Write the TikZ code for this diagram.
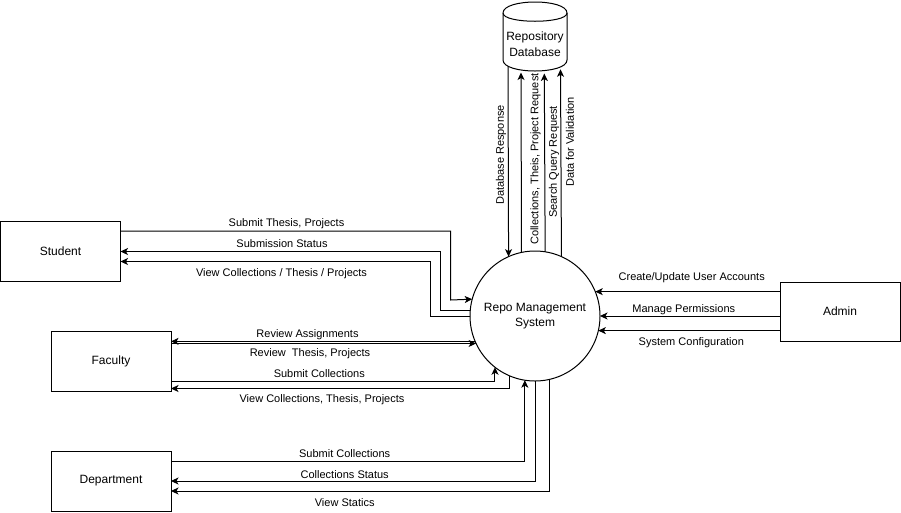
\documentclass[tikz,border=0pt]{standalone}
\usepackage{fontspec}
\setmainfont{Liberation Sans}
\usetikzlibrary{arrows.meta}
\begin{document}
\begin{tikzpicture}[x=1pt,y=-1pt,
  every node/.style={inner sep=0pt, outer sep=0pt},
  entity/.style={draw, line width=1pt, fill=white, minimum width=120pt,
    minimum height=60pt, font=\fontsize{12}{14}\selectfont},
  process/.style={draw, circle, line width=1pt, fill=white, minimum size=130pt,
    align=center, font=\fontsize{12}{15}\selectfont},
  flow/.style={line width=1pt, -{Stealth[length=7.5pt,width=7pt,inset=2pt]}},
  store/.style={draw, line width=1pt, fill=white},
  lbl/.style={font=\fontsize{11}{13}\selectfont},
  vlbl/.style={lbl, rotate=90},
]
\useasboundingbox (0,0) rectangle (901,512);

% external entities and the central process
\node[entity] (student) at (60.5,251) {Student};
\node[entity] (fac) at (111,361) {Faculty};
\node[entity] (dep) at (111,481) {Department};
\node[entity, minimum height=59pt] (adm) at (840,311.5) {Admin};
\node[process] (sys) at (535,316) {Repo Management\\System};

% student flows
\draw[flow] (student.east |- 0,231) -| (450.5,300) -- (sys.165.75);
\draw[flow] (sys.175.3) -| (440.5,251.5) -- (student.east |- 0,251.5);
\draw[flow] (sys.180) -| (430.5,261.5) -- (student.east |- 0,261.5);

% faculty flows
\draw[flow] (sys.203.3) -- (fac.east |- sys.203.3);
\draw[flow] (fac.east |- sys.205.8) -- (sys.205.8);
\draw[flow] (fac.east |- 0,381.5) -| (sys.232);
\draw[flow] (sys.247.9) |- (fac.east |- 0,388.5);

% department flows
\draw[flow] (dep.east |- 0,461.5) -| (sys.261.15);
\draw[flow] (sys.270) |- (dep.east |- 0,481);
\draw[flow] (sys.283.3) |- (dep.east |- 0,491);

% admin flows
\draw[flow] (adm.west |- sys.22.9) -- (sys.22.9);
\draw[flow] (adm.west |- sys.0) -- (sys.0);
\draw[flow] (adm.west |- sys.347.1) -- (sys.347.1);

% data store flows
\coordinate (dbR) at (508,66);
\coordinate (dbC) at (521,72.5);
\coordinate (dbS) at (544.3,73.5);
\coordinate (dbV) at (560.5,69.3);
\draw[flow] (dbR) -- (sys.114.54);
\draw[flow] (sys.102.44) -- (dbC);
\draw[flow] (sys.81.77) -- (dbS);
\draw[flow] (sys.66.9) -- (dbV);

% repository database cylinder
\draw[store] (503,13) .. controls (503,-1.67) and (567,-1.67) .. (567,13)
  -- (567,60) .. controls (567,74.67) and (503,74.67) .. (503,60) -- cycle;
\draw[line width=1pt] (503,13) .. controls (503,24) and (567,24) .. (567,13);
\node[align=center, font=\fontsize{12}{16}\selectfont] (db) at (535,44) {Repository\\Database};

% flow labels
\node[lbl] (l1) at (286.5,223.5) {Submit Thesis, Projects};
\node[lbl] (l2) at (282,243.5) {Submission Status};
\node[lbl] (l3) at (281.5,273.5) {View Collections / Thesis / Projects};
\node[lbl] (l4) at (307.5,334.5) {Review Assignments};
\node[lbl] (l5) at (310,353.8) {Review\ \ Thesis, Projects};
\node[lbl] (l6) at (319.3,373.2) {Submit Collections};
\node[lbl] (l7) at (322,399.8) {View Collections, Thesis, Projects};
\node[lbl] (l8) at (344.7,453.8) {Submit Collections};
\node[lbl] (l9) at (344.7,474.2) {Collections Status};
\node[lbl] (l10) at (344.7,502.2) {View Statics};
\node[lbl] (l11) at (691.7,277.2) {Create/Update User Accounts};
\node[lbl] (l12) at (683.8,309.2) {Manage Permissions};
\node[lbl] (l13) at (691.3,342.5) {System Configuration};
\node[vlbl] (l14) at (501,155) {Database Response};
\node[vlbl] (l15) at (535.5,159) {Collections, Theis, Project Request};
\node[vlbl] (l16) at (554,162) {Search Query Request};
\node[vlbl] (l17) at (570,142) {Data for Validation};
\end{tikzpicture}
\end{document}
